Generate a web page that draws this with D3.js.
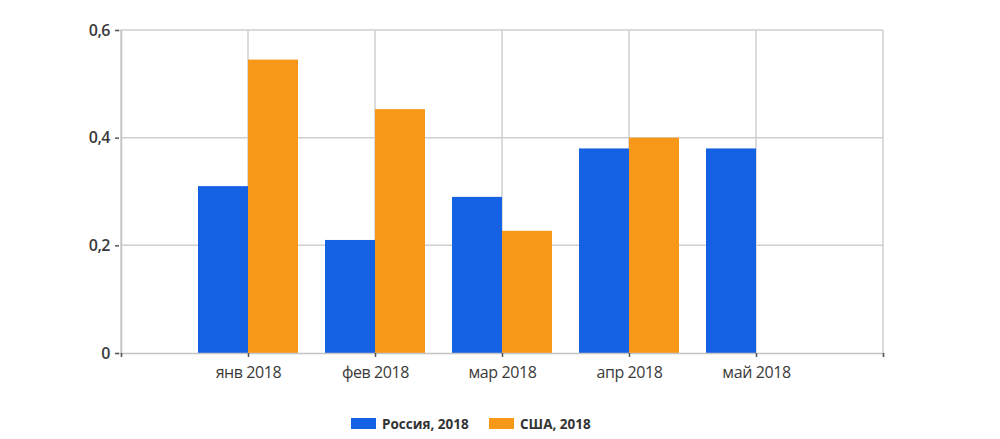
<!DOCTYPE html>
<html>
<head>
<meta charset="utf-8">
<script src="https://cdn.jsdelivr.net/npm/d3@7"></script>
<style>
  body { margin: 0; background: #fff; }
  svg { display: block; }
</style>
</head>
<body>
<script>
const months = ['янв 2018', 'фев 2018', 'мар 2018', 'апр 2018', 'май 2018']
const russia = [0.31, 0.21, 0.29, 0.38, 0.38]
const usa = [0.545, 0.453, 0.227, 0.4, null]
const seriesNames = ['Россия, 2018', 'США, 2018']
const colors = ['#1561e3', '#f89818']
const yTicks = [0, 0.2, 0.4, 0.6]

const width = 1000, height = 439
const plotLeft = 121, plotRight = 883, plotTop = 30, plotBottom = 353

const svg = d3.select('body').append('svg')
  .attr('width', width)
  .attr('height', height)

// one extra slot after the last month, gridlines sit on the category centres
const x = d3.scalePoint()
  .domain(['', ...months, ' '])
  .range([plotLeft, plotRight])

const y = d3.scaleLinear()
  .domain([0, 0.6])
  .range([plotBottom, plotTop])

const fmt = d => d === 0 ? '0' : d3.format('.1f')(d).replace('.', ',')

// horizontal gridlines
svg.append('g')
  .selectAll('line')
  .data(yTicks.filter(d => d > 0))
  .join('line')
  .attr('x1', plotLeft).attr('x2', plotRight)
  .attr('y1', d => y(d)).attr('y2', d => y(d))
  .attr('stroke', '#cfcfcf')
  .attr('stroke-width', 1.5)

// vertical gridlines
svg.append('g')
  .selectAll('line')
  .data(x.domain())
  .join('line')
  .attr('x1', d => x(d)).attr('x2', d => x(d))
  .attr('y1', plotTop).attr('y2', plotBottom)
  .attr('stroke', '#cfcfcf')
  .attr('stroke-width', 1.5)

// bars
const barW = 50
const series = [russia, usa]
series.forEach((vals, s) => {
  svg.append('g')
    .selectAll('rect')
    .data(vals.map((v, i) => ({ m: months[i], v })).filter(d => d.v != null))
    .join('rect')
    .attr('x', d => s === 0 ? x(d.m) - barW : x(d.m))
    .attr('y', d => y(d.v))
    .attr('width', barW)
    .attr('height', d => plotBottom - y(d.v))
    .attr('fill', colors[s])
})

// y axis
const yAxis = svg.append('g')
  .attr('transform', `translate(${plotLeft},0)`)
  .call(d3.axisLeft(y).tickValues(yTicks).tickFormat(fmt).tickSize(4).tickPadding(7))
yAxis.select('.domain').attr('stroke', '#c4c4c4').attr('stroke-width', 1.5)
yAxis.selectAll('.tick line').attr('stroke', '#555').attr('stroke-width', 1.5).attr('transform', 'translate(-2,0)')
yAxis.selectAll('.tick text')
  .attr('fill', '#3a3a3a')
  .attr('font-family', 'Open Sans, sans-serif')
  .attr('font-size', 16)
  .attr('font-weight', 600)
  .attr('letter-spacing', '-0.5')

// x axis
const xAxis = svg.append('g')
  .attr('transform', `translate(0,${plotBottom})`)
  .call(d3.axisBottom(x).tickSize(4).tickPadding(10))
xAxis.select('.domain').attr('stroke', '#c4c4c4').attr('stroke-width', 1.5)
xAxis.selectAll('.tick line').attr('stroke', '#555').attr('stroke-width', 1.5)
xAxis.selectAll('.tick text')
  .attr('fill', '#3a3a3a')
  .attr('font-family', 'Open Sans, sans-serif')
  .attr('font-size', 16)
  .attr('letter-spacing', '-0.4')

// legend
const legendX = [351, 489]
const legend = svg.append('g')
seriesNames.forEach((name, i) => {
  legend.append('rect')
    .attr('x', legendX[i]).attr('y', 418)
    .attr('width', 25).attr('height', 11)
    .attr('fill', colors[i])
  legend.append('text')
    .attr('x', legendX[i] + 31).attr('y', 429)
    .attr('font-family', 'Open Sans, sans-serif')
    .attr('font-size', 13.5)
    .attr('font-weight', 700)
    .attr('fill', '#333')
    .text(name)
})
</script>
</body>
</html>
